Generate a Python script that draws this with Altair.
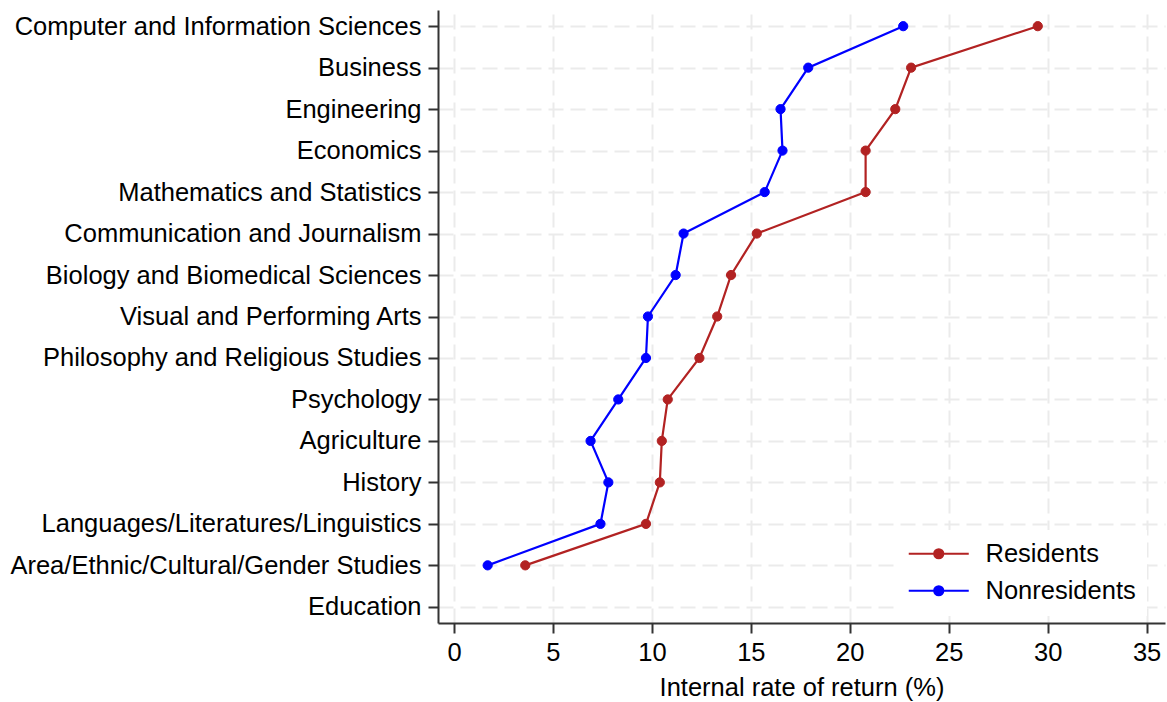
import altair as alt
import pandas as pd

fields = [
    "Computer and Information Sciences",
    "Business",
    "Engineering",
    "Economics",
    "Mathematics and Statistics",
    "Communication and Journalism",
    "Biology and Biomedical Sciences",
    "Visual and Performing Arts",
    "Philosophy and Religious Studies",
    "Psychology",
    "Agriculture",
    "History",
    "Languages/Literatures/Linguistics",
    "Area/Ethnic/Cultural/Gender Studies",
    "Education",
]
residents = [29.5, 23.1, 22.3, 20.8, 20.8, 15.3, 14.0, 13.3, 12.4, 10.8, 10.5, 10.4, 9.7, 3.6, None]
nonresidents = [22.7, 17.9, 16.5, 16.6, 15.7, 11.6, 11.2, 9.8, 9.7, 8.3, 6.9, 7.8, 7.4, 1.7, None]
groups = ["Residents", "Nonresidents"]
colors = ["#B22222", "#0000FF"]
x_ticks = [0, 5, 10, 15, 20, 25, 30, 35]

rows = []
for g, vals in zip(groups, [residents, nonresidents]):
    for i, (f, v) in enumerate(zip(fields, vals)):
        if v is not None:
            rows.append({"field": f, "irr": v, "group": g, "order": i})
df = pd.DataFrame(rows)

FONT = "Liberation Sans"
FS = 25.5
AXIS_COLOR = "#333333"
GRID_COLOR = "#ebebeb"

x_enc = alt.X(
    "irr:Q",
    scale=alt.Scale(domain=[-0.81, 35.93], nice=False, zero=False),
    axis=alt.Axis(
        values=x_ticks,
        title="Internal rate of return (%)",
        titleFont=FONT, titleFontSize=FS, titleFontWeight="normal", titleColor="black",
        titlePadding=10,
        labelFont=FONT, labelFontSize=FS, labelColor="black", labelPadding=7,
        domainColor=AXIS_COLOR, domainWidth=2,
        tickColor=AXIS_COLOR, tickWidth=2, tickSize=10,
        grid=True, gridColor=GRID_COLOR, gridWidth=2, gridDash=[15, 7],
    ),
)
y_enc = alt.Y(
    "field:N",
    scale=alt.Scale(domain=fields, padding=0.39),
    axis=alt.Axis(
        title=None,
        labelFont=FONT, labelFontSize=FS, labelColor="black", labelPadding=7,
        labelLimit=0,
        domainColor=AXIS_COLOR, domainWidth=2,
        tickColor=AXIS_COLOR, tickWidth=2, tickSize=10,
        grid=True, gridColor=GRID_COLOR, gridWidth=2, gridDash=[15, 7],
    ),
)

symbol_path = "M-3,0L3,0M0.45,0A0.45,0.45,0,1,1,-0.45,0A0.45,0.45,0,1,1,0.45,0Z"
leg = alt.Legend(
    title=None,
    orient="none",
    legendX=457,
    legendY=520,
    padding=11,
    fillColor="white",
    symbolType=symbol_path,
    symbolSize=400,
    symbolOffset=20,
    symbolStrokeWidth=2.2,
    labelOffset=34,
    labelFont=FONT,
    labelFontSize=FS,
    labelColor="black",
    rowPadding=10,
)
color_scale = alt.Scale(domain=groups, range=colors)

line = alt.Chart(df).mark_line(strokeWidth=2.2).encode(
    x=x_enc,
    y=y_enc,
    stroke=alt.Stroke("group:N", scale=color_scale, legend=leg, sort=groups),
    order=alt.Order("order:Q"),
)
points = alt.Chart(df).mark_point(filled=True, size=85, opacity=1, strokeWidth=1).encode(
    x=x_enc,
    y=y_enc,
    fill=alt.Fill("group:N", scale=color_scale, legend=leg, sort=groups),
    stroke=alt.Stroke("group:N", scale=color_scale, legend=leg, sort=groups),
)

chart = (
    alt.layer(line, points)
    .properties(
        width=727,
        height=613,
        autosize=alt.AutoSizeParams(type="none"),
        padding={"left": 438, "top": 10, "right": 2, "bottom": 79},
        background="white",
    )
    .configure_view(stroke=None)
)

chart.save("out.html", embed_options={"renderer": "svg", "actions": False})
